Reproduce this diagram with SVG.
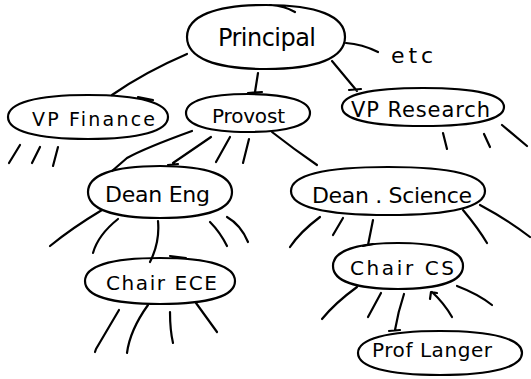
<svg xmlns="http://www.w3.org/2000/svg" width="531" height="379" viewBox="0 0 531 379">
  <style>
    .ink { fill: none; stroke: #000; stroke-width: 2.2; stroke-linecap: round; stroke-linejoin: round; }
    .lbl { font-family: "DejaVu Sans", "Liberation Sans", sans-serif; fill: #000; }
  </style>
  <rect width="531" height="379" fill="#fff"/>

  <!-- hierarchy links -->
  <g id="connectors" class="ink">
    <!-- Principal -->
    <path d="M187,54 Q145,72 112,95"/>
    <path d="M258,73 L255,92 M248,93 L262,92"/>
    <path d="M346,43 Q362,44 378,52"/>
    <path d="M332,61 L357,91 M349,90 L361,89"/>
    <!-- VP Finance -->
    <path d="M9,163 L20,145"/>
    <path d="M32,163 L40,147"/>
    <path d="M53,166 L58,147"/>
    <!-- Provost -->
    <path d="M192,131 Q145,148 127,158 L112,171"/>
    <path d="M211,137 L173,163 M168,165 L178,164"/>
    <path d="M230,137 L216,162"/>
    <path d="M249,139 L243,163"/>
    <path d="M272,132 Q295,150 317,165"/>
    <!-- VP Research -->
    <path d="M443,133 L447,149"/>
    <path d="M484,134 L490,147"/>
    <path d="M502,125 L527,146"/>
    <!-- Dean Eng -->
    <path d="M102,210 Q72,228 50,246"/>
    <path d="M118,219 Q98,235 93,253"/>
    <path d="M158,221 Q160,242 150,262"/>
    <path d="M210,222 Q220,232 227,246"/>
    <path d="M227,217 Q241,225 248,242"/>
    <!-- Chair ECE -->
    <path d="M119,310 L96,349 L95,352"/>
    <path d="M148,305 Q130,330 127,353"/>
    <path d="M170,312 Q170,330 173,343"/>
    <path d="M196,303 L217,332"/>
    <!-- Dean Science -->
    <path d="M320,217 Q300,232 290,247"/>
    <path d="M343,218 L333,235"/>
    <path d="M373,220 L368,245 M363,246 L373,244"/>
    <path d="M463,210 Q478,228 487,243"/>
    <path d="M480,205 Q508,220 530,237"/>
    <!-- Chair CS -->
    <path d="M357,287 Q335,303 322,319"/>
    <path d="M381,293 L368,317"/>
    <path d="M404,294 Q398,312 395,330 M389,331 L400,330"/>
    <path d="M432,292 Q444,303 452,317 M431,292 L430,299 M431,292 L437,293"/>
    <path d="M457,286 Q478,294 492,305"/>
  </g>

  <g id="principal">
    <path class="ink" d="M187,37 C187,16 215,5 266,5 C317,5 345,16 345,37 C345,58 317,69 266,69 C215,69 187,58 187,37 Z M270,5 Q285,6 295,12"/>
    <text class="lbl" x="218" y="46" font-size="24" textLength="98" lengthAdjust="spacing">Principal</text>
  </g>

  <g id="etc">
    <text class="lbl" x="391" y="63" font-size="22" textLength="42" lengthAdjust="spacing">etc</text>
  </g>

  <g id="vp-finance">
    <path class="ink" d="M8,117 C8,103 36,95 88,95 C140,95 168,103 168,117 C168,131 140,139 88,139 C36,139 8,131 8,117 Z M138,97 L153,100"/>
    <text class="lbl" x="32" y="126" font-size="19" textLength="123" lengthAdjust="spacing">VP Finance</text>
  </g>

  <g id="provost">
    <path class="ink" d="M186,113 C186,101 208,94 248,94 C288,94 310,101 310,113 C310,125 288,132 248,132 C208,132 186,125 186,113 Z"/>
    <text class="lbl" x="212" y="123" font-size="20" textLength="73" lengthAdjust="spacing">Provost</text>
  </g>

  <g id="vp-research">
    <path class="ink" d="M342,107 C342,95 370,88 423,88 C476,88 504,95 504,107 C504,119 476,126 423,126 C370,126 342,119 342,107 Z"/>
    <text class="lbl" x="351" y="117" font-size="21" textLength="139" lengthAdjust="spacing">VP Research</text>
  </g>

  <g id="dean-eng">
    <path class="ink" d="M88,192 C88,175 113,166 160,166 C207,166 232,175 232,192 C232,209 207,218 160,218 C113,218 88,209 88,192 Z"/>
    <text class="lbl" x="105" y="202" font-size="22" textLength="105" lengthAdjust="spacing">Dean Eng</text>
  </g>

  <g id="dean-science">
    <path class="ink" d="M291,191 C291,175 325,167 388,167 C451,167 485,175 485,191 C485,207 451,215 388,215 C325,215 291,207 291,191 Z"/>
    <text class="lbl" x="312" y="203" font-size="22" textLength="160" lengthAdjust="spacing">Dean . Science</text>
  </g>

  <g id="chair-ece">
    <path class="ink" d="M85,281 C85,266 111,258 160,258 C209,258 235,266 235,281 C235,296 209,304 160,304 C111,304 85,296 85,281 Z M170,256 L186,258"/>
    <text class="lbl" x="106" y="290" font-size="20" textLength="111" lengthAdjust="spacing">Chair ECE</text>
  </g>

  <g id="chair-cs">
    <path class="ink" d="M333,266 C333,251 356,243 398,243 C440,243 463,251 463,266 C463,281 440,289 398,289 C356,289 333,281 333,266 Z"/>
    <text class="lbl" x="350" y="275" font-size="20" textLength="104" lengthAdjust="spacing">Chair CS</text>
  </g>

  <g id="prof-langer">
    <path class="ink" d="M358,353 C358,339 387,331 440,331 C493,331 522,339 522,353 C522,367 493,375 440,375 C387,375 358,367 358,353 Z"/>
    <text class="lbl" x="372" y="357" font-size="20" textLength="120" lengthAdjust="spacing">Prof Langer</text>
  </g>
</svg>
